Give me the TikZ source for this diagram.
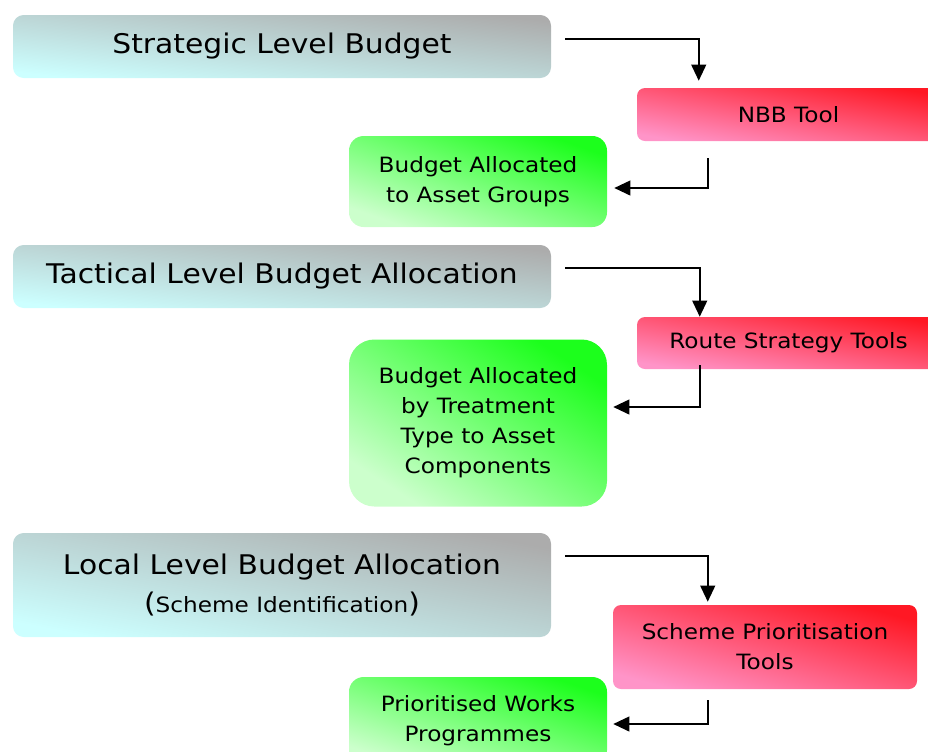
\documentclass[tikz,border=0pt]{standalone}
\usepackage{fontspec}
\setmainfont{DejaVu Sans}[FakeStretch=1.1]
\usetikzlibrary{arrows.meta}

\definecolor{levelgrey}{RGB}{172,172,172}
\definecolor{levelcyan}{RGB}{204,255,255}
\definecolor{toolred}{RGB}{255,24,36}
\definecolor{toolpink}{RGB}{255,148,200}
\definecolor{resgreen}{RGB}{28,255,28}
\definecolor{respale}{RGB}{204,255,204}

\newcommand\headfont{\fontsize{20.3}{28}\selectfont}
\newcommand\bodyfont{\fontsize{15.8}{22.5}\selectfont}

\begin{document}
\begin{tikzpicture}[x=0.75pt,y=-0.75pt,>={Triangle[length=12pt,width=11pt]},
  every node/.style={align=center,inner sep=0pt},
  % shading runs from the lower left corner to the upper right one
  tilt/.style={shading angle=#1},
  level/.style={top color=levelgrey,bottom color=levelcyan,
    rounded corners=8pt,minimum width=403.5pt,font=\headfont},
  tool/.style={top color=toolred,bottom color=toolpink,
    rounded corners=6pt,font=\bodyfont},
  result/.style={top color=resgreen,bottom color=respale,
    rounded corners=11pt,minimum width=193.5pt,font=\bodyfont},
  flow/.style={->,line width=1.4pt}]
\path[use as bounding box,clip] (0,0) rectangle (928,751);

\node[level,tilt=-6.7,minimum height=47.25pt] (strat) at (282,46.5) {Strategic Level Budget};
\node[tool,tilt=-9.9,minimum width=227.25pt,minimum height=39.75pt] (nbb) at (788.5,114.5) {NBB Tool};
\node[result,tilt=-19.4,minimum height=68.25pt] (grp) at (478,181.5) {Budget Allocated\\to Asset Groups};

\node[level,tilt=-6.7,minimum height=47.25pt] (tact) at (282,276.5) {Tactical Level Budget Allocation};
\node[tool,tilt=-9.7,minimum width=227.25pt,minimum height=39pt] (route) at (788.5,343) {Route Strategy Tools};
\node[result,tilt=-32.9,rounded corners=19pt,minimum height=125.25pt] (comp) at (478,423)
  {Budget Allocated\\by Treatment\\Type to Asset\\Components};

\node[level,tilt=-10.9,minimum height=78pt] (local) at (282,585)
  {Local Level Budget Allocation\\({\bodyfont Scheme Identification})};
\node[tool,tilt=-15.4,minimum width=228pt,minimum height=63pt] (prio) at (765,647) {Scheme Prioritisation\\Tools};
\node[result,tilt=-18.8,minimum height=66pt] (works) at (478,721) {Prioritised Works\\Programmes};

\draw[flow] ([shift={(14,-7.5)}]strat.east) -| ([shift={(62,-7)}]nbb.north west);
\draw[flow] ([shift={(71,17)}]nbb.south west) |- ([shift={(7,6.5)}]grp.east);
\draw[flow] ([shift={(14,-8.5)}]tact.east) -| ([shift={(63,0)}]route.north west);
\draw[flow] ([shift={(63,-4)}]route.south west) |- ([shift={(6,-16)}]comp.east);
\draw[flow] ([shift={(14,-29)}]local.east) -| ([shift={(95,-3)}]prio.north west);
\draw[flow] ([shift={(95,11)}]prio.south west) |- ([shift={(6,3)}]works.east);
\end{tikzpicture}
\end{document}
